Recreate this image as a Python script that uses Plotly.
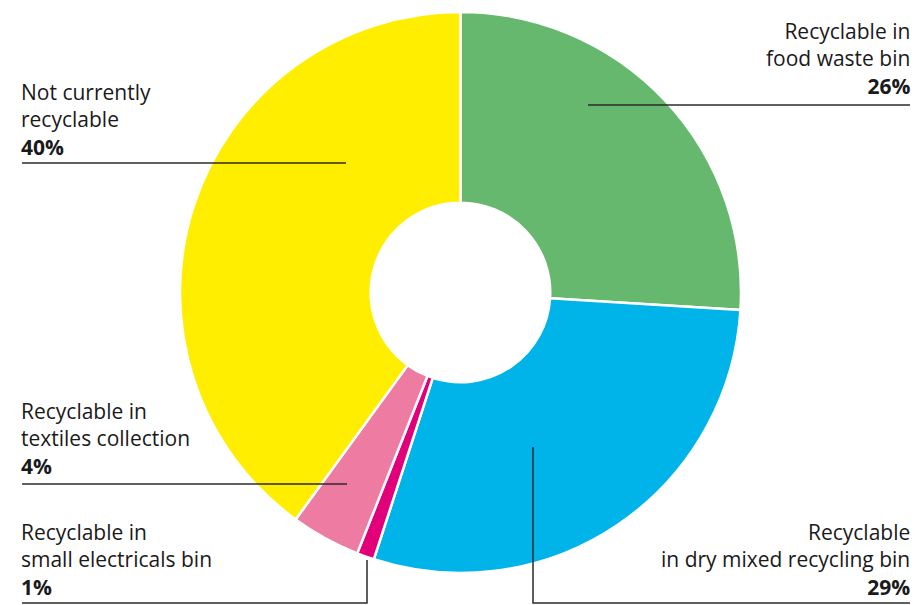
import plotly.graph_objects as go

W, H = 915, 605

labels = ["Recyclable in food waste bin", "Recyclable in dry mixed recycling bin",
          "Recyclable in small electricals bin", "Recyclable in textiles collection",
          "Not currently recyclable"]
values = [26, 29, 1, 4, 40]
colors = ["#66B86E", "#00B4EA", "#E2007A", "#EE7CA2", "#FFEE00"]
label_text = ["Recyclable in<br>food waste bin", "Recyclable<br>in dry mixed recycling bin",
              "Recyclable in<br>small electricals bin", "Recyclable in<br>textiles collection",
              "Not currently<br>recyclable"]


def px(x):
    return x / W


def py(y):
    return 1 - y / H


fig = go.Figure(go.Pie(
    labels=labels, values=values, sort=False, direction="clockwise", rotation=0,
    hole=0.32, marker=dict(colors=colors, line=dict(color="white", width=2.5)),
    textinfo="none", hoverinfo="label+percent", showlegend=False,
    domain=dict(x=[px(180), px(741)], y=[py(573), py(12)]),
))

# label placement (pixel anchors): (x, block y centre, xanchor, align)
label_pos = [
    (911, 59, "right", "right"),
    (911, 559, "right", "right"),
    (20, 559, "left", "left"),
    (20, 438, "left", "left"),
    (20, 119, "left", "left"),
]
# leader lines (pixel polylines)
leaders = [
    [(588, 105), (910, 105)],
    [(533, 447), (533, 603), (910, 603)],
    [(367, 560), (367, 603), (22, 603)],
    [(347, 484), (22, 484)],
    [(346, 163), (22, 163)],
]

annotations = []
shapes = []
for txt, v, (x, y, xa, al), pts in zip(label_text, values, label_pos, leaders):
    annotations.append(dict(
        x=px(x), y=py(y), xref="paper", yref="paper", xanchor=xa, yanchor="middle",
        align=al, showarrow=False, text=f"{txt}<br><b>{v}%</b>", borderpad=0,
        font=dict(family="Open Sans", size=21, color="#1a1a1a"),
    ))
    path = "M " + " L ".join(f"{px(a)},{py(b)}" for a, b in pts)
    shapes.append(dict(type="path", path=path, xref="paper", yref="paper",
                       line=dict(color="#2b2b2b", width=1.5), layer="above"))

fig.update_layout(
    width=W, height=H, margin=dict(l=0, r=0, t=0, b=0),
    paper_bgcolor="white", plot_bgcolor="white",
    annotations=annotations, shapes=shapes,
)

fig.write_html("out.html")
